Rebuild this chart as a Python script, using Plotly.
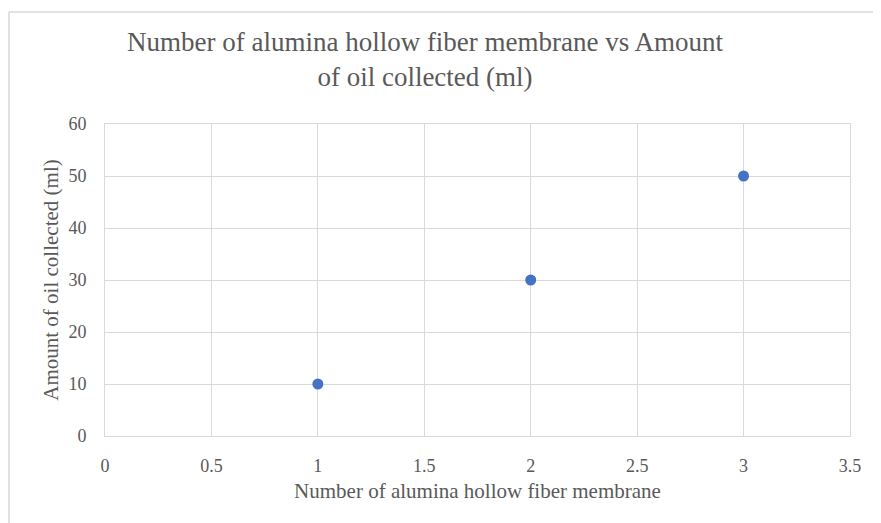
import plotly.graph_objects as go

membranes = [1, 2, 3]
oil_ml = [10, 30, 50]
x_ticks = [0, 0.5, 1, 1.5, 2, 2.5, 3, 3.5]
y_ticks = [0, 10, 20, 30, 40, 50, 60]

OFF = 8  # default page body margin
W, H = 881 - OFF, 523 - OFF
L, T = 105 - OFF, 124 - OFF
pw, ph = 745, 312
R, B = W - L - pw, H - T - ph

font_fam = "Liberation Serif"
grey = "#595959"

fig = go.Figure()
fig.add_trace(go.Scatter(
    x=membranes, y=oil_ml, mode="markers",
    marker=dict(size=11, color="#4472C4", line=dict(width=0)),
    showlegend=False,
))

# outer chart border (paper coords)
bx0 = (9 - OFF - L) / pw
by1 = (H - (12 - OFF) - B) / ph
fig.add_shape(type="line", xref="paper", yref="paper", x0=bx0, x1=(W + 5 - L) / pw,
              y0=by1, y1=by1, line=dict(color="#d9d9d9", width=1.5))
fig.add_shape(type="line", xref="paper", yref="paper", x0=bx0, x1=bx0,
              y0=(-5 - B) / ph, y1=by1, line=dict(color="#d9d9d9", width=1.5))

fig.update_layout(
    width=W, height=H,
    margin=dict(l=L, r=R, t=T, b=B),
    paper_bgcolor="white", plot_bgcolor="white",
    title=dict(text="Number of alumina hollow fiber membrane vs Amount<br>of oil collected (ml)",
               x=(425 - OFF) / W, xanchor="center",
               y=1 - (51 - OFF) / H, yanchor="top",
               font=dict(family=font_fam, size=27, color=grey)),
    xaxis=dict(range=[0, 3.5], tickvals=x_ticks, ticktext=[str(v) for v in x_ticks],
               showgrid=True, gridcolor="#d9d9d9", gridwidth=1,
               showline=True, linecolor="#d9d9d9", mirror=True, zeroline=False,
               ticks="outside", ticklen=13, tickcolor="rgba(0,0,0,0)",
               tickfont=dict(family=font_fam, size=18, color=grey),
               title=dict(text="Number of alumina hollow fiber membrane",
                          font=dict(family=font_fam, size=21, color=grey), standoff=8)),
    yaxis=dict(range=[0, 60], tickvals=y_ticks,
               showgrid=True, gridcolor="#d9d9d9", gridwidth=1,
               showline=True, linecolor="#d9d9d9", mirror=True, zeroline=False,
               ticks="outside", ticklen=14, tickcolor="rgba(0,0,0,0)",
               tickfont=dict(family=font_fam, size=18, color=grey),
               title=dict(text="Amount of oil collected (ml)",
                          font=dict(family=font_fam, size=21, color=grey), standoff=4)),
)

fig.write_html("out.html")
